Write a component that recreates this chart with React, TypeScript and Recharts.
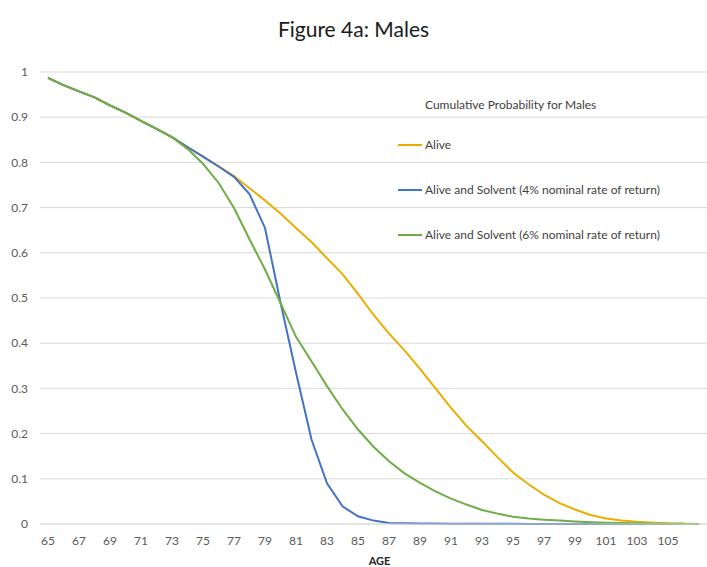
import React from 'react';
import {
  LineChart,
  Line,
  XAxis,
  YAxis,
  CartesianGrid,
  Legend,
} from 'recharts';

// ages on the category axis
const ages = [
  65, 66, 67, 68, 69, 70, 71, 72, 73, 74, 75, 76, 77, 78, 79, 80, 81, 82, 83, 84, 85,
  86, 87, 88, 89, 90, 91, 92, 93, 94, 95, 96, 97, 98, 99, 100, 101, 102, 103, 104, 105,
  106, 107,
];

// odd ages get a label, like the original
const xTickLabels = [
  '65', '67', '69', '71', '73', '75', '77', '79', '81', '83', '85', '87', '89', '91',
  '93', '95', '97', '99', '101', '103', '105',
];

const yTicks = [0, 0.1, 0.2, 0.3, 0.4, 0.5, 0.6, 0.7, 0.8, 0.9, 1];

const alive = [
  0.987, 0.971, 0.957, 0.944, 0.926, 0.91, 0.892, 0.874, 0.856, 0.834, 0.813, 0.792,
  0.77, 0.743, 0.716, 0.687, 0.655, 0.624, 0.588, 0.553, 0.509, 0.463, 0.421, 0.384,
  0.343, 0.3, 0.257, 0.217, 0.183, 0.148, 0.114, 0.088, 0.065, 0.046, 0.032, 0.02,
  0.012, 0.008, 0.005, 0.003, 0.0015, 0.001, null,
];

const solvent4 = [
  0.987, 0.971, 0.957, 0.944, 0.926, 0.91, 0.892, 0.874, 0.856, 0.834, 0.813, 0.791,
  0.768, 0.73, 0.655, 0.49, 0.335, 0.187, 0.09, 0.039, 0.017, 0.0075, 0.002, 0.0015,
  0.001, 0.001, 0.0008, 0.0006, 0.0005, 0.0004, 0.0003, 0.0002, 0.0002, 0.0001, 0.0001,
  0.0001, 0, 0, 0, 0, 0, 0, null,
];

const solvent6 = [
  0.987, 0.971, 0.957, 0.944, 0.926, 0.91, 0.892, 0.874, 0.856, 0.83, 0.797, 0.755,
  0.699, 0.63, 0.563, 0.489, 0.414, 0.36, 0.305, 0.254, 0.209, 0.171, 0.139, 0.112,
  0.091, 0.072, 0.056, 0.043, 0.031, 0.023, 0.016, 0.012, 0.0095, 0.0077, 0.0057, 0.004,
  0.0028, 0.002, 0.0014, 0.001, 0.0007, 0.0004, 0.0002,
];

const series = [
  { key: 'alive', name: 'Alive', color: '#EBAE00' },
  { key: 'solvent4', name: 'Alive and Solvent (4% nominal rate of return)', color: '#4472C4' },
  { key: 'solvent6', name: 'Alive and Solvent (6% nominal rate of return)', color: '#70AD47' },
];

const data = ages.map((age, i) => ({
  age: String(age),
  alive: alive[i],
  solvent4: solvent4[i],
  solvent6: solvent6[i],
}));

const font = 'Lato, "Liberation Sans", sans-serif';

function ChartLegend() {
  return (
    <div style={{ fontFamily: font, fontSize: 12, color: '#404040', textAlign: 'left' }}>
      <div style={{ height: 18, lineHeight: '18px', paddingLeft: 27 }}>
        Cumulative Probability for Males
      </div>
      {series.map((s, i) => (
        <div
          key={s.key}
          style={{
            height: 18,
            lineHeight: '18px',
            marginTop: i === 0 ? 22 : 27,
            display: 'flex',
            alignItems: 'center',
            whiteSpace: 'nowrap',
          }}
        >
          <span
            style={{
              display: 'inline-block',
              width: 24,
              height: 0,
              borderTop: `2px solid ${s.color}`,
              marginRight: 3,
            }}
          />
          {s.name}
        </div>
      ))}
    </div>
  );
}

export default function App() {
  return (
    <div
      style={{
        position: 'absolute',
        left: 0,
        top: 0,
        width: 707,
        height: 567,
        background: '#fff',
        fontFamily: font,
      }}
    >
      <div
        style={{
          position: 'absolute',
          top: 15,
          left: 0,
          width: 707,
          textAlign: 'center',
          fontSize: 21,
          color: '#1a1a1a',
          lineHeight: '28px',
        }}
      >
        Figure 4a: Males
      </div>
      <LineChart
        width={707}
        height={567}
        data={data}
        margin={{ top: 72, right: 0, left: 0, bottom: 0 }}
      >
        <CartesianGrid vertical={false} stroke="#D9D9D9" strokeWidth={1} />
        <XAxis
          dataKey="age"
          interval={0}
          height={43}
          padding={{ left: 8, right: 8 }}
          tickSize={0}
          tickMargin={12}
          axisLine={{ stroke: '#D9D9D9' }}
          tick={{ fontSize: 12, fill: '#595959', fontFamily: font }}
          tickFormatter={(v: string) => (xTickLabels.includes(v) ? v : '')}
          label={{
            value: 'AGE',
            position: 'insideBottom',
            offset: 2,
            dx: 6,
            style: { fontSize: 11, fontWeight: 700, fill: '#262626', fontFamily: font },
          }}
        />
        <YAxis
          width={40}
          domain={[0, 1]}
          ticks={yTicks}
          tickSize={0}
          tickMargin={12}
          axisLine={false}
          tick={{ fontSize: 12, fill: '#595959', fontFamily: font }}
          tickFormatter={(v: number) => String(Math.round(v * 10) / 10)}
        />
        <Legend
          layout="vertical"
          align="center"
          verticalAlign="middle"
          content={<ChartLegend />}
          wrapperStyle={{ position: 'absolute', left: 398, top: 96, width: 300 }}
        />
        {series.map((s) => (
          <Line
            key={s.key}
            type="linear"
            dataKey={s.key}
            name={s.name}
            stroke={s.color}
            strokeWidth={2}
            dot={false}
            activeDot={false}
            connectNulls={false}
            isAnimationActive={false}
          />
        ))}
      </LineChart>
    </div>
  );
}
